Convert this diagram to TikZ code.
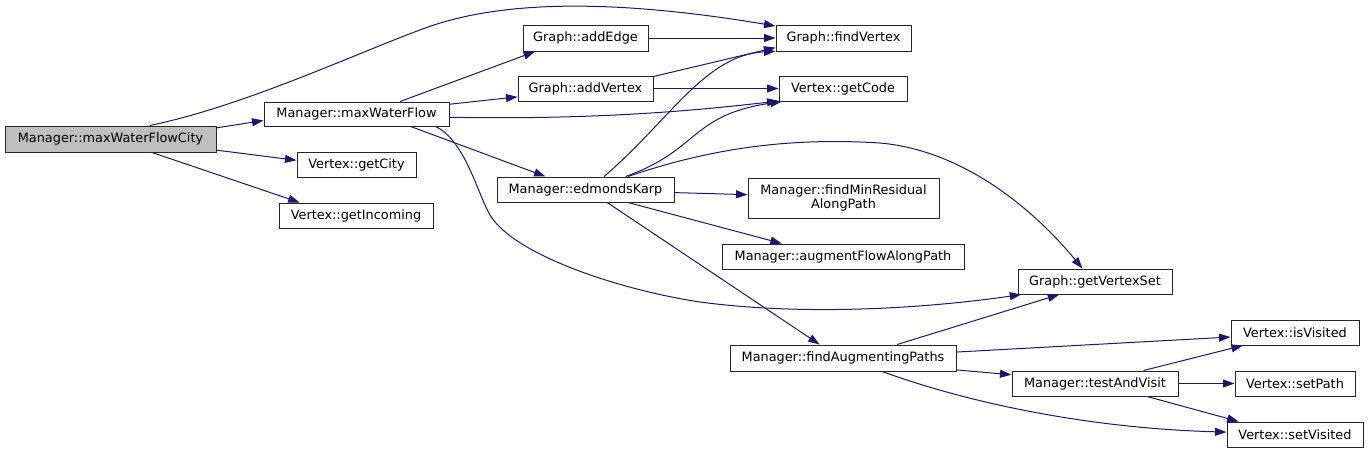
\documentclass[tikz,border=0pt]{standalone}
\usepackage{fontspec}
\setmainfont{DejaVu Sans}
\usetikzlibrary{arrows.meta}
\definecolor{edgeblue}{HTML}{191970}
\definecolor{rootgray}{HTML}{BFBFBF}
\begin{document}
\begin{tikzpicture}[x=1pt,y=-1pt,
    fn/.style={draw=black!85,line width=1pt,inner sep=0pt,minimum height=25pt,
      font=\fontsize{12.85}{14.5}\selectfont,align=center},
    call/.style={draw=edgeblue,line width=1pt,-{Triangle[length=11.5pt,width=8pt]}}]
    \useasboundingbox (0,0) rectangle (1369,453);
    \node[fn,fill=rootgray,minimum width=211pt,minimum height=26pt] (mwfc) at (110.5,139) {Manager::maxWaterFlowCity};
    \node[fn,minimum width=185pt,minimum height=24pt] (mwf) at (356.5,114) {Manager::maxWaterFlow};
    \node[fn,minimum width=119pt] (gcity) at (356.5,164.5) {Vertex::getCity};
    \node[fn,minimum width=154pt] (ginc) at (356,215.5) {Vertex::getIncoming};
    \node[fn,minimum width=125pt,minimum height=26pt] (aedge) at (585.5,38) {Graph::addEdge};
    \node[fn,minimum width=135pt,minimum height=26pt] (fvx) at (843.5,38) {Graph::findVertex};
    \node[fn,minimum width=135pt] (avx) at (585.5,88.5) {Graph::addVertex};
    \node[fn,minimum width=128pt] (gcode) at (843,88.5) {Vertex::getCode};
    \node[fn,minimum width=177pt] (ek) at (585.5,189.5) {Manager::edmondsKarp};
    \node[fn,minimum width=191pt,minimum height=40pt] (fmr) at (843.5,198) {Manager::findMinResidual\\AlongPath};
    \node[fn,minimum width=242pt] (afap) at (843,256.5) {Manager::augmentFlowAlongPath};
    \node[fn,minimum width=154pt] (gvs) at (1095,281.5) {Graph::getVertexSet};
    \node[fn,minimum width=226pt,minimum height=26pt] (fap) at (843,358) {Manager::findAugmentingPaths};
    \node[fn,minimum width=166pt] (tav) at (1095,383.5) {Manager::testAndVisit};
    \node[fn,minimum width=128pt] (isv) at (1295,332.5) {Vertex::isVisited};
    \node[fn,minimum width=120pt] (spath) at (1295,383.5) {Vertex::setPath};
    \node[fn,minimum width=136pt] (svis) at (1295,434.5) {Vertex::setVisited};
    \draw[call] (mwfc.6) -- (mwf.184); \draw[call] (mwfc.-6) -- (gcity.176);
    \draw[call] (mwfc.-18) -- (ginc.167);
    \draw[call] (mwfc.19) .. controls (250,105) and (374,45) .. (434,25) .. controls (510,0) and (620,0) .. (fvx.170);
    \draw[call] (mwf.16) -- (aedge.195); \draw[call] (mwf.6) -- (avx.187);
    \draw[call] (mwf.-2) .. controls (600,120) and (700,110) .. (gcode.191);
    \draw[call] (mwf.-13) -- (ek.162);
    \draw[call] (mwf.-9) .. controls (465,140) and (478,195) .. (490,215) .. controls (514,255) and (620,290) .. (700,302) .. controls (820,318) and (950,305) .. (gvs.190);
    \draw[call] (aedge.east) -- (fvx.west); \draw[call] (avx.10) -- (fvx.188);
    \draw[call] (avx.east) -- (gcode.west);
    \draw[call] (ek.35) .. controls (670,120) and (705,55) .. (fvx.191);
    \draw[call] (ek.18) .. controls (700,150) and (690,115) .. (gcode.192);
    \draw[call] (ek.17) .. controls (720,145) and (800,138) .. (880,143) .. controls (960,150) and (1030,205) .. (gvs.134);
    \draw[call] (ek.-2) -- (fmr.178); \draw[call] (ek.-17) -- (afap.168);
    \draw[call] (ek.-31) -- (fap.150);
    \draw[call] (fap.14) -- (gvs.200); \draw[call] (fap.3) -- (isv.184);
    \draw[call] (fap.-6) -- (tav.174);
    \draw[call] (fap.-19) .. controls (960,400) and (1080,428) .. (svis.178);
    \draw[call] (tav.15) -- (isv.194); \draw[call] (tav.east) -- (spath.west);
    \draw[call] (tav.-14) -- (svis.167);
  \end{tikzpicture}
\end{document}
